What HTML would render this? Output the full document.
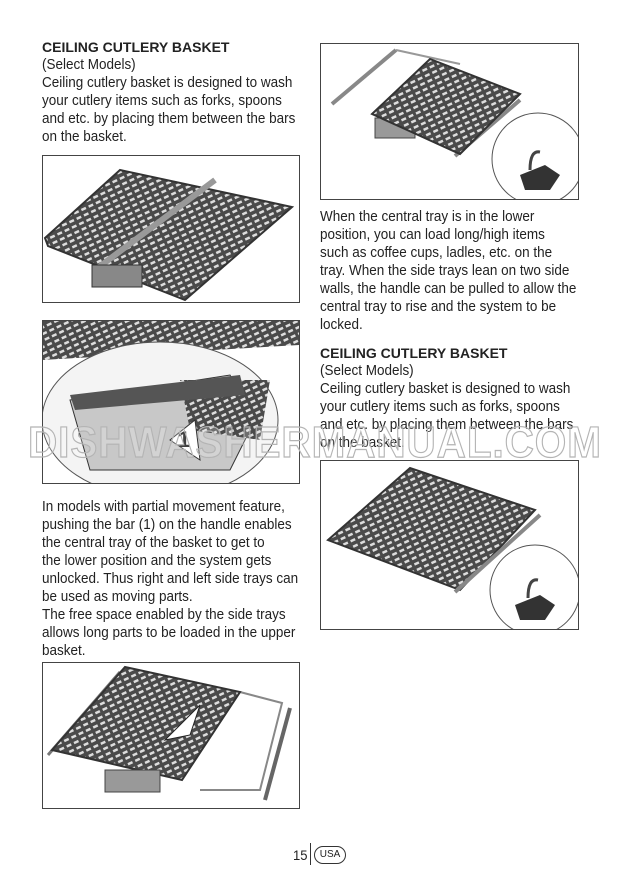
<!DOCTYPE html>
<html><head><meta charset="utf-8"><style>
body{margin:0;background:#fff;}
#p{position:relative;width:620px;height:880px;overflow:hidden;font-family:"Liberation Sans",sans-serif;color:#222;}
.t{position:absolute;font-size:14.5px;line-height:18px;white-space:nowrap;transform:scaleX(0.93);transform-origin:left top;}
.h{position:absolute;font-family:"Liberation Sans",sans-serif;font-weight:bold;font-size:14px;}
.box{position:absolute;border:1px solid #444;box-sizing:border-box;}
svg{position:absolute;left:0;top:0;}
#wm{position:absolute;left:28px;top:418px;font-family:"Liberation Sans",sans-serif;font-weight:bold;font-size:44px;letter-spacing:1px;color:rgba(255,255,255,0.2);-webkit-text-stroke:1.2px #b4b4b4;white-space:nowrap;transform:scaleX(0.92);transform-origin:left;}
</style></head><body><div id="p">
<svg width="620" height="880">
<defs>
<pattern id="g" width="8" height="6" patternUnits="userSpaceOnUse" patternTransform="rotate(-25)">
<rect width="8" height="6" fill="#4a4a4a"/><rect x="1" y="1.5" width="5" height="2.5" fill="#ddd"/></pattern>
<clipPath id="c2"><rect x="42" y="320" width="258" height="164"/></clipPath>
<clipPath id="c1"><rect x="320" y="43" width="259" height="157"/></clipPath>
<clipPath id="c4"><rect x="320" y="460" width="259" height="170"/></clipPath>
</defs>
<!-- box1 -->
<polygon points="45,238 120,170 292,207 185,300 48,246" fill="url(#g)" stroke="#333" stroke-width="2"/>
<line x1="95" y1="270" x2="215" y2="180" stroke="#999" stroke-width="6"/>
<rect x="92" y="265" width="50" height="22" fill="#888" stroke="#333"/>
<!-- box2 -->
<g clip-path="url(#c2)">
<polygon points="42,320 299,320 299,345 42,360" fill="url(#g)"/>
<ellipse cx="160" cy="420" rx="118" ry="78" fill="#f4f4f4" stroke="#555"/>
<polygon points="70,400 230,375 255,420 230,470 90,470" fill="#c8c8c8" stroke="#333"/>
<polygon points="180,380 270,380 260,440 190,430" fill="url(#g)"/>
<polygon points="70,395 240,375 245,395 75,410" fill="#555"/>
<polygon points="170,440 195,420 200,460" fill="#fff" stroke="#333"/>
<text x="178" y="447" font-family="Liberation Sans" font-weight="bold" font-size="22" fill="#111">1</text>
</g>
<!-- box3 -->
<line x1="48" y1="755" x2="120" y2="672" stroke="#777" stroke-width="3"/>
<polyline points="240,692 282,703 260,790 200,790" fill="none" stroke="#888" stroke-width="2"/>
<line x1="290" y1="708" x2="265" y2="800" stroke="#666" stroke-width="4"/>
<polygon points="52,750 125,667 240,692 182,780" fill="url(#g)" stroke="#333" stroke-width="2"/>
<polygon points="165,740 190,735 200,705" fill="#fff" stroke="#222"/>
<rect x="105" y="770" width="55" height="22" fill="#999" stroke="#444"/>
<!-- box right top -->
<g clip-path="url(#c1)">
<line x1="332" y1="104" x2="396" y2="50" stroke="#888" stroke-width="4"/>
<line x1="396" y1="50" x2="460" y2="64" stroke="#999" stroke-width="2"/>
<line x1="455" y1="156" x2="520" y2="100" stroke="#888" stroke-width="4"/>
<rect x="375" y="118" width="40" height="20" fill="#999" stroke="#444"/>
<polygon points="372,114 430,59 520,94 460,154" fill="url(#g)" stroke="#333" stroke-width="2"/>
<circle cx="538" cy="159" r="46" fill="#fff" stroke="#555"/>
<polygon points="520,175 545,165 560,175 550,190 525,190" fill="#333"/>
<path d="M530 170 q0 -20 10 -18" fill="none" stroke="#444" stroke-width="3"/>
</g>
<!-- box right bottom -->
<g clip-path="url(#c4)">
<polygon points="328,540 410,468 535,510 460,590" fill="url(#g)" stroke="#333" stroke-width="2"/>
<line x1="455" y1="592" x2="540" y2="515" stroke="#888" stroke-width="4"/>
<circle cx="535" cy="590" r="45" fill="#fff" stroke="#555"/>
<polygon points="515,605 540,595 555,605 545,620 520,620" fill="#333"/>
<path d="M528 598 q0 -20 10 -18" fill="none" stroke="#444" stroke-width="3"/>
</g>
</svg>
<div class="box" style="left:42px;top:155px;width:258px;height:148px"></div>
<div class="box" style="left:42px;top:320px;width:258px;height:164px"></div>
<div class="box" style="left:42px;top:662px;width:258px;height:147px"></div>
<div class="box" style="left:320px;top:43px;width:259px;height:157px"></div>
<div class="box" style="left:320px;top:460px;width:259px;height:170px"></div>

<div class="h" style="left:42px;top:39px">CEILING CUTLERY BASKET</div>
<div class="t" style="left:42px;top:56px">(Select Models)<br>Ceiling cutlery basket is designed to wash<br>your cutlery items such as forks, spoons<br>and etc. by placing them between the bars<br>on the basket.</div>
<div class="t" style="left:42px;top:498px">In models with partial movement feature,<br>pushing the bar (1) on the handle enables<br>the central tray of the basket to get to<br>the lower position and the system gets<br>unlocked. Thus right and left side trays can<br>be used as moving parts.<br>The free space enabled by the side trays<br>allows long parts to be loaded in the upper<br>basket.</div>
<div class="t" style="left:320px;top:208px">When the central tray is in the lower<br>position, you can load long/high items<br>such as coffee cups, ladles, etc. on the<br>tray. When the side trays lean on two side<br>walls, the handle can be pulled to allow the<br>central tray to rise and the system to be<br>locked.</div>
<div class="h" style="left:320px;top:345px">CEILING CUTLERY BASKET</div>
<div class="t" style="left:320px;top:362px">(Select Models)<br>Ceiling cutlery basket is designed to wash<br>your cutlery items such as forks, spoons<br>and etc. by placing them between the bars<br>on the basket.</div>
<div id="wm">DISHWASHERMANUAL.COM</div>
<div class="t" style="left:293px;top:846px;font-size:14px">15</div>
<div style="position:absolute;left:310px;top:843px;width:1px;height:22px;background:#333"></div>
<div style="position:absolute;left:314px;top:846px;width:30px;height:16px;border:1px solid #333;border-radius:9px;font-family:'Liberation Sans',sans-serif;font-size:10px;line-height:16px;text-align:center">USA</div>
</div></body></html>
